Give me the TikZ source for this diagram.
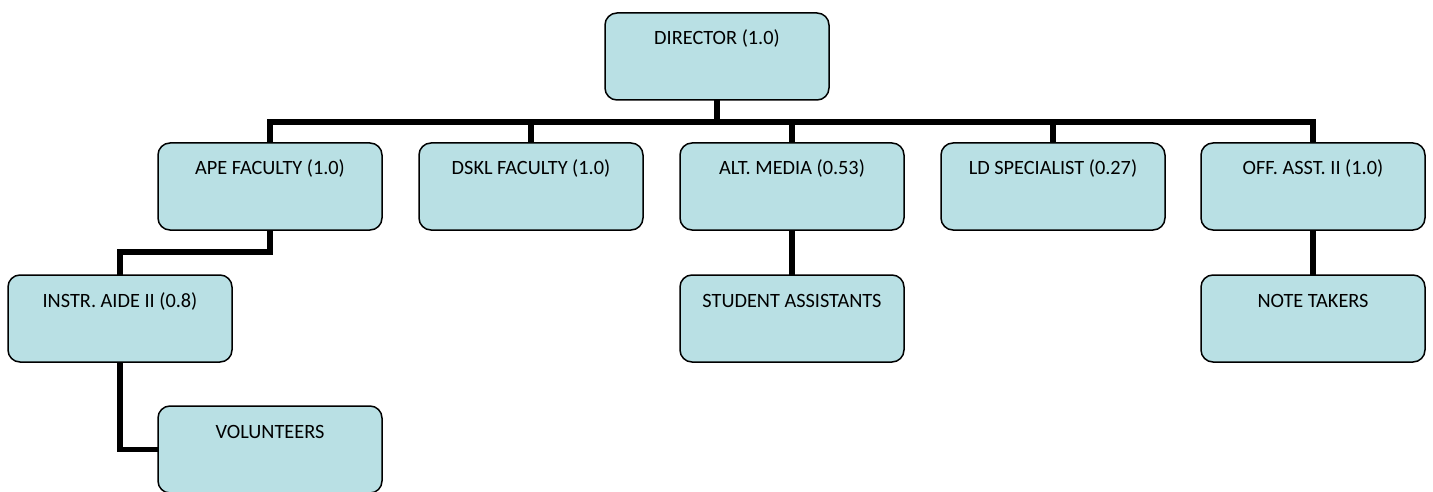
\documentclass[tikz,border=0pt]{standalone}
\usepackage{fontspec}
\setmainfont{Carlito}
\definecolor{boxfill}{RGB}{185,224,228}
\tikzset{
  orgbox/.style={draw=black, line width=1.5pt, fill=boxfill, rounded corners=12pt,
    anchor=north west, minimum width=224pt, inner xsep=0pt, inner ysep=0pt,
    outer sep=0pt, text height=32pt, text depth=55pt,
    font=\fontsize{20.3}{23}\selectfont},
  conn/.style={line width=5.5pt, line join=miter, line cap=butt}
}
\begin{document}
\begin{tikzpicture}[x=1pt,y=-1pt]
\useasboundingbox (0,0) rectangle (1433,492);
\node[orgbox] (dir) at (605,13) {DIRECTOR (1.0)};
\node[orgbox] (ape) at (158,143) {APE FACULTY (1.0)};
\node[orgbox] (dskl) at (419,143) {DSKL FACULTY (1.0)};
\node[orgbox] (alt) at (680,143) {ALT. MEDIA (0.53)};
\node[orgbox] (ld) at (941,143) {LD SPECIALIST (0.27)};
\node[orgbox] (off) at (1201,143) {OFF. ASST. II (1.0)};
\node[orgbox] (instr) at (8,275) {INSTR. AIDE II (0.8)};
\node[orgbox] (stud) at (680,275) {STUDENT ASSISTANTS};
\node[orgbox] (note) at (1201,275) {NOTE TAKERS};
\node[orgbox] (vol) at (158,406) {VOLUNTEERS};
\coordinate (bar) at (717,122);
\coordinate (apejog) at (270,252);
\draw[conn] (dir.south) -- (dir.south |- bar);
\draw[conn] (ape.north) -- (ape.north |- bar) -- (off.north |- bar) -- (off.north);
\draw[conn] (dskl.north) -- (dskl.north |- bar);
\draw[conn] (alt.north) -- (alt.north |- bar);
\draw[conn] (ld.north) -- (ld.north |- bar);
\draw[conn] (ape.south) -- (apejog) -| (instr.north);
\draw[conn] (instr.south) |- (vol.west);
\draw[conn] (alt.south) -- (stud.north);
\draw[conn] (off.south) -- (note.north);
\end{tikzpicture}
\end{document}
